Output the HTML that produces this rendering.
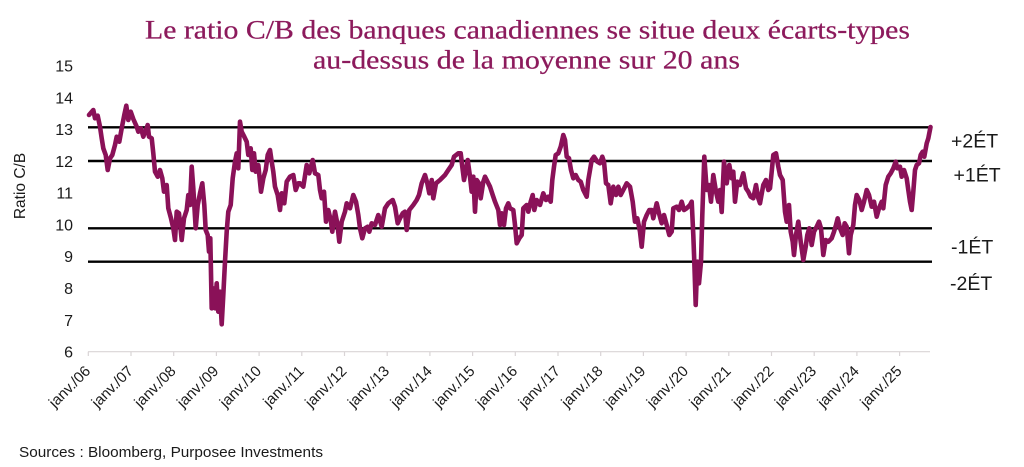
<!DOCTYPE html>
<html><head><meta charset="utf-8">
<style>
html,body{margin:0;padding:0;background:#fff;}
svg{display:block;}
</style></head>
<body>
<svg width="1024" height="467" viewBox="0 0 1024 467" xmlns="http://www.w3.org/2000/svg">
<rect width="1024" height="467" fill="#fff"/>
<g font-family="'Liberation Serif', serif" fill="#8C1A5C" font-size="26" stroke="#8C1A5C" stroke-width="0.25">
<text x="145" y="38.5" textLength="765" lengthAdjust="spacingAndGlyphs">Le ratio C/B des banques canadiennes se situe deux écarts-types</text>
<text x="313" y="68.5" textLength="427" lengthAdjust="spacingAndGlyphs">au-dessus de la moyenne sur 20 ans</text>
</g>
<g font-family="'Liberation Sans', sans-serif" fill="#1a1a1a" font-size="16" text-anchor="end">
<text x="73" y="71.5">15</text>
<text x="73" y="103.3">14</text>
<text x="73" y="135.1">13</text>
<text x="73" y="166.8">12</text>
<text x="73" y="198.6">11</text>
<text x="73" y="230.4">10</text>
<text x="73" y="262.2">9</text>
<text x="73" y="294">8</text>
<text x="73" y="325.8">7</text>
<text x="73" y="357.5">6</text>
</g>
<text transform="translate(25,186) rotate(-90)" text-anchor="middle" font-family="'Liberation Sans', sans-serif" font-size="15.5" fill="#1a1a1a">Ratio C/B</text>
<!-- x axis -->
<line x1="88" y1="351.7" x2="930" y2="351.7" stroke="#d9d4d6" stroke-width="1.2"/>
<g stroke="#d9d4d6" stroke-width="1.2">
<line x1="88.3" y1="351.7" x2="88.3" y2="356"/>
<line x1="131" y1="351.7" x2="131" y2="356"/>
<line x1="173.7" y1="351.7" x2="173.7" y2="356"/>
<line x1="216.4" y1="351.7" x2="216.4" y2="356"/>
<line x1="259.1" y1="351.7" x2="259.1" y2="356"/>
<line x1="301.8" y1="351.7" x2="301.8" y2="356"/>
<line x1="344.5" y1="351.7" x2="344.5" y2="356"/>
<line x1="387.2" y1="351.7" x2="387.2" y2="356"/>
<line x1="429.9" y1="351.7" x2="429.9" y2="356"/>
<line x1="472.6" y1="351.7" x2="472.6" y2="356"/>
<line x1="515.3" y1="351.7" x2="515.3" y2="356"/>
<line x1="558" y1="351.7" x2="558" y2="356"/>
<line x1="600.7" y1="351.7" x2="600.7" y2="356"/>
<line x1="643.4" y1="351.7" x2="643.4" y2="356"/>
<line x1="686.1" y1="351.7" x2="686.1" y2="356"/>
<line x1="728.8" y1="351.7" x2="728.8" y2="356"/>
<line x1="771.5" y1="351.7" x2="771.5" y2="356"/>
<line x1="814.2" y1="351.7" x2="814.2" y2="356"/>
<line x1="856.9" y1="351.7" x2="856.9" y2="356"/>
<line x1="899.6" y1="351.7" x2="899.6" y2="356"/>
</g>
<g font-family="'Liberation Sans', sans-serif" fill="#1a1a1a" font-size="15" text-anchor="end">
<text transform="translate(91.3,372) rotate(-45)">janv./06</text>
<text transform="translate(134,372) rotate(-45)">janv./07</text>
<text transform="translate(176.7,372) rotate(-45)">janv./08</text>
<text transform="translate(219.4,372) rotate(-45)">janv./09</text>
<text transform="translate(262.1,372) rotate(-45)">janv./10</text>
<text transform="translate(304.8,372) rotate(-45)">janv./11</text>
<text transform="translate(347.5,372) rotate(-45)">janv./12</text>
<text transform="translate(390.2,372) rotate(-45)">janv./13</text>
<text transform="translate(432.9,372) rotate(-45)">janv./14</text>
<text transform="translate(475.6,372) rotate(-45)">janv./15</text>
<text transform="translate(518.3,372) rotate(-45)">janv./16</text>
<text transform="translate(561,372) rotate(-45)">janv./17</text>
<text transform="translate(603.7,372) rotate(-45)">janv./18</text>
<text transform="translate(646.4,372) rotate(-45)">janv./19</text>
<text transform="translate(689.1,372) rotate(-45)">janv./20</text>
<text transform="translate(731.8,372) rotate(-45)">janv./21</text>
<text transform="translate(774.5,372) rotate(-45)">janv./22</text>
<text transform="translate(817.2,372) rotate(-45)">janv./23</text>
<text transform="translate(859.9,372) rotate(-45)">janv./24</text>
<text transform="translate(902.6,372) rotate(-45)">janv./25</text>
</g>
<!-- reference lines -->
<g stroke="#000" stroke-width="2.4">
<line x1="88" y1="127.3" x2="932" y2="127.3"/>
<line x1="88" y1="161" x2="932" y2="161"/>
<line x1="88" y1="228.3" x2="932" y2="228.3"/>
<line x1="88" y1="261.7" x2="932" y2="261.7"/>
</g>
<g font-family="'Liberation Sans', sans-serif" fill="#1a1a1a" font-size="19.5">
<text x="951" y="147.7">+2ÉT</text>
<text x="953.5" y="181.7">+1ÉT</text>
<text x="951" y="253.3">-1ÉT</text>
<text x="950" y="290">-2ÉT</text>
</g>
<!-- series -->
<polyline fill="none" stroke="#8A1158" stroke-width="4.6" stroke-linejoin="round" stroke-linecap="round" points="
89,115 93.3,110 95,118.3 97.7,115.7 100,126.7 101.7,138.3 103.3,148.3 105.7,155 107.7,170 110,158.3 112.3,155 115,145 116.7,136.7 119.3,141.7 121.7,128.3 124.3,115 126.3,105.7 128.3,120 130.7,111.7 133.3,119 136.7,126.7 138.3,131.7 141,128.3 143.3,136.7 146,130 147.7,125 149,136.7 151.7,138.3 153.3,153.3 155,171.7 157.7,176.7 160,170 162.3,178.3 164,191.7 166.7,185 168.3,208.3 171,218.3 173.3,228.3 175,240 176.7,211.7 179,213.3 181.7,240 184,218.3 186.7,210 188.3,195 190,205 191.7,166.7 193.3,188.3 195.7,228.3 197.7,205 200,193.3 202.3,183.3 204.3,205 205.7,230 207.7,235 209,251.7 210.3,238.3 211.7,308.3 213.3,288.3 215,308.3 216.7,283.3 218.3,311.7 220,291.7 221.7,324.3 223.3,295 225,261.7 226.7,231.7 228.3,211.7 230.7,205 232.7,178.3 235,161.7 236.7,153.3 238.3,168.3 240,121.7 241.7,131.7 244.3,136.7 246.7,141.7 248.3,155 250.7,148.3 252.3,170 254,153.3 255.7,171.7 258.3,165 261,191.7 263.3,178.3 265.7,170 267.7,155 270,150 271.7,161.7 273.3,171.7 275,186.7 277.7,195 280,210 281.7,193.3 284.3,203.3 286.7,181.7 290,176.7 293.3,175 295.7,190 298.3,183.3
300,183.3 303.3,186.7 306.7,165 309.3,173.3 312.7,160 315,173.3 318.3,175 320,190 321.7,198.3 324,191.7 326,221.7 328.3,210 330.7,220 332.3,231.7 335,211.7 337.3,223.3 339.3,241.7 341.7,221.7 345,211.7 346.7,203.3 350,208.3 353.3,195 356,201.7 358.3,215 360,228.3 362.3,238.3 365,228.3 367.7,226.7 369.3,231.7 371.7,223.3 375,225 378.3,215 381.7,226.7 385,208.3 388.3,203.3 392.7,200 395,206.7 397.7,223.3 400,218.3 402.7,213.3 405,211.7 406.7,230 409.3,210 413.3,205 416.7,200 419,195 421.7,183.3 425,175 427.3,183.3 429.3,193.3 431.7,180 433.3,198.3 436,183.3 440,180 445,175 448.3,170 451.7,165 454,156.7 458.3,153.3 460.7,153.3 462.3,166.7 464,180 465.7,171.7 467.7,160 470,176.7 471.7,191.7 473.3,176.7 475,211.7 476.7,180 479,183.3 480.7,198.3 483.3,181.7 485,176.7 486.7,180 490,186.7 492.7,195 495,201.7 498.3,210 500,225 501.7,213.3 504,225 506,208.3 508.3,203.3
510,208.3 513.3,210 515,225 516.7,243.3 519.3,238.3 521.7,235 523.3,208.3 526.7,205 528.3,211.7 530.7,201.7 532.7,195 534.3,210 536.7,200 540,205 543.3,193.3 546,200 548.3,196.7 550.7,201.7 552.3,180 554,166.7 555.7,155 558.3,153.3 560.7,146.7 563.3,135 565,140 566.7,156.7 569,158.3 571,170 573.3,178.3 575.7,175 578.3,180 580.7,181.7 583.3,190 586.7,196.7 588.3,180 591.7,160 594,156.7 597.3,161.7 600,163.3 602.3,156.7 604,161.7 606,183.3 608.3,185 610.7,203.3 613.3,186.7 616,195 618.3,186.7 620.7,195 623.3,190 626.7,183.3 630,186.7 632.7,201.7 635,221.7 637.3,218.3 640,231.7 641.7,246.7 644,221.7 646.7,215 649.3,210 651.7,210 653.3,218.3 656.7,203.3 659,213.3 661.7,223.3 664,215 666.7,225 669.3,235 671.7,231.7 673.3,208.3 676.7,206.7 679,210 681.7,201.7 684,210 686.7,208.3 690,205 691.7,201.7 693.3,235 694.3,261.7 695.7,305 697.3,261.7 699,283.3 701,261.7 702.3,215 704.3,156.7 706.7,190 709,185 711,201.7 713.3,175 716,191.7 718.3,201.7 720,190 721.7,212 724,161.7
726.7,183.3 729.3,165 731.7,178.3 733.3,171.7 735,201.7 737.3,181.7 740,185 743.3,173.3 746,188.3 748.3,191.7 750.7,196.7 753.3,198.3 756,185 758.3,198.3 760,203.3 763.3,185 766,180 768.3,190 770,188.3 771.7,171.7 773.3,155 776,153.3 778.3,166.7 780,175 782.7,180 785,211.7 786.7,221.7 789,205 790.7,231.7 792.7,241.7 794,255 796,235 798.3,221.7 800.7,241.7 803.3,260 805.7,246.7 807.3,235 809.3,228.3 811.7,245 814,231.7 816.7,226.7 819,221.7 821,228.3 823.3,255 825.7,240 828.3,241.7 831.7,238.3 834,231.7 836,225 837.7,218.3 840,228.3 842.7,235 844.7,223.3 846.7,226.7 849,253.3 850.7,235 853.3,225 855,205 856.7,195 859.3,200 861.7,210 864,201.7 866.7,190 869,195 871.7,206.7 874,201.7 876.7,216.7 879,208.3 881.7,201.7 883.3,208.3 885.7,185 888.3,176.7 890.7,173.3 893.3,168.3 895.7,161.7 897.3,168.3 900,166.7 901.7,176.7 904,170 906.7,178.3 908.3,190 910,201.7 911.7,210 913.3,191.7 915,170 916.7,165 919,163.3 920.7,155 922.7,151.7 924.3,156.7 926.7,143.3 928.3,138.3 930.5,127
"/>
<text x="19" y="457" font-family="'Liberation Sans', sans-serif" font-size="14.5" fill="#1a1a1a" textLength="304" lengthAdjust="spacingAndGlyphs">Sources : Bloomberg, Purposee Investments</text>
</svg>
</body></html>
